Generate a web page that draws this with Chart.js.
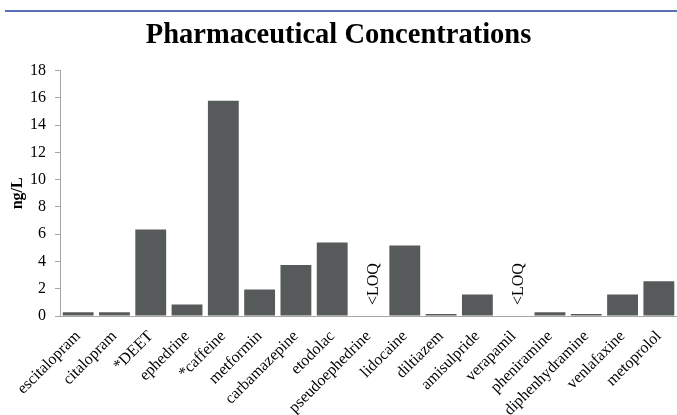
<!DOCTYPE html>
<html>
<head>
<meta charset="utf-8">
<script src="https://cdn.jsdelivr.net/npm/chart.js@4"></script>
<style>
  html, body { margin: 0; padding: 0; background: #fff; }
  #wrap { width: 677px; height: 415px; position: relative; }
</style>
</head>
<body>
<div id="wrap"><canvas id="pharmaChart"></canvas></div>
<script>
// Compounds along the x axis
const compounds = [
  'escitalopram', 'citalopram', '*DEET', 'ephedrine', '*caffeine', 'metformin',
  'carbamazepine', 'etodolac', 'pseudoephedrine', 'lidocaine', 'diltiazem',
  'amisulpride', 'verapamil', 'pheniramine', 'diphenhydramine', 'venlafaxine', 'metoprolol'
];

// Concentrations in ng/L (null = below limit of quantitation)
const concentrations = [
  0.27, 0.27, 6.35, 0.85, 15.8, 1.95,
  3.75, 5.4, null, 5.18, 0.15,
  1.58, null, 0.27, 0.15, 1.58, 2.55
];

const yTicks = [0, 2, 4, 6, 8, 10, 12, 14, 16, 18];
const loqText = '<LOQ';

const serif = '"Liberation Serif", "Times New Roman", serif';
const axisGray = '#a6a6a6';

// Blue rule across the top of the figure
const topRule = {
  id: 'topRule',
  beforeDraw(chart) {
    const ctx = chart.ctx;
    ctx.save();
    ctx.strokeStyle = '#5a70b3';
    ctx.lineWidth = 2;
    ctx.beginPath();
    ctx.moveTo(5, 11);
    ctx.lineTo(chart.width, 11);
    ctx.stroke();
    ctx.restore();
  }
};

// Write "<LOQ" vertically where no value was quantified
const loqLabels = {
  id: 'loqLabels',
  afterDatasetsDraw(chart) {
    const ctx = chart.ctx;
    const x = chart.scales.x;
    const y = chart.scales.y;
    ctx.save();
    ctx.font = '16px ' + serif;
    ctx.fillStyle = '#000';
    ctx.textAlign = 'left';
    ctx.textBaseline = 'middle';
    concentrations.forEach((v, i) => {
      if (v !== null) return;
      ctx.save();
      ctx.translate(x.getPixelForValue(i) + 5, y.getPixelForValue(0) - 11);
      ctx.rotate(-Math.PI / 2);
      ctx.fillText(loqText, 0, 0);
      ctx.restore();
    });
    ctx.restore();
  }
};

new Chart(document.getElementById('pharmaChart'), {
  type: 'bar',
  data: {
    labels: compounds,
    datasets: [{
      data: concentrations,
      backgroundColor: '#575a5a',
      borderWidth: 0,
      barPercentage: 0.85,
      categoryPercentage: 1.0
    }]
  },
  options: {
    responsive: true,
    maintainAspectRatio: false,
    animation: false,
    layout: { padding: { left: 0, right: 0, top: 0, bottom: 0 } },
    plugins: {
      legend: { display: false },
      tooltip: { enabled: false },
      title: {
        display: true,
        text: 'Pharmaceutical Concentrations',
        color: '#000',
        font: { family: serif, size: 28.5, weight: 'bold' },
        padding: { top: 19, bottom: 17.5 }
      }
    },
    scales: {
      x: {
        grid: { display: false },
        border: { display: true, color: axisGray, width: 1 },
        ticks: {
          color: '#000',
          font: { family: serif, size: 16 },
          minRotation: 45,
          maxRotation: 45,
          autoSkip: false,
          padding: 3
        },
        afterFit(scale) { scale.height = 99; }
      },
      y: {
        min: 0,
        max: 18,
        afterBuildTicks(scale) {
          scale.ticks = yTicks.map(v => ({ value: v }));
        },
        grid: {
          drawOnChartArea: false,
          drawTicks: true,
          tickLength: 5,
          color: axisGray
        },
        border: { display: true, color: axisGray, width: 1 },
        ticks: {
          color: '#000',
          font: { family: serif, size: 16 },
          padding: 9
        },
        title: {
          display: true,
          text: 'ng/L',
          color: '#000',
          font: { family: serif, size: 16, weight: 'bold' },
          padding: { top: 8, bottom: 0 }
        },
        afterFit(scale) { scale.width = 60; }
      }
    }
  },
  plugins: [topRule, loqLabels]
});
</script>
</body>
</html>
